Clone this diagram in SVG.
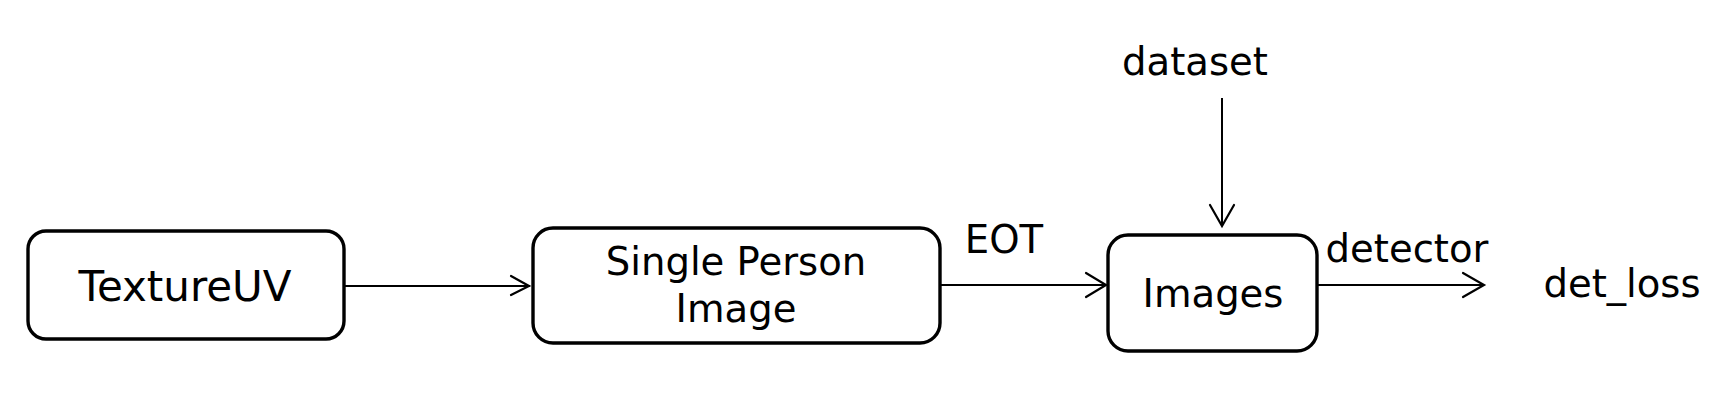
<svg xmlns="http://www.w3.org/2000/svg" width="1736" height="414" viewBox="0 0 1736 414">
<style>
.box{fill:#fff;stroke:#000;stroke-width:3.4}
.lbl{font-family:"DejaVu Sans",sans-serif;font-size:38.6px;fill:#000;text-anchor:middle}
.edge{stroke:#000;stroke-width:2;fill:none}
.head{stroke:#000;stroke-width:2.2;fill:none;stroke-linecap:round;stroke-linejoin:miter}
</style>
<rect width="1736" height="414" fill="#fff"/>
<g id="connectors">
<line class="edge" x1="344" y1="286" x2="530" y2="286"/>
<polyline class="head" points="511,276 529,286 511,295"/>
<line class="edge" x1="940" y1="285" x2="1106" y2="285"/>
<polyline class="head" points="1086,273 1106,285 1086,297"/>
<line class="edge" x1="1317" y1="285" x2="1484" y2="285"/>
<polyline class="head" points="1463,273 1484,285 1463,297"/>
<line class="edge" x1="1222" y1="98" x2="1222" y2="226"/>
<polyline class="head" points="1210,205 1222,226 1234,205"/>
<text class="lbl" x="1004" y="253">EOT</text>
<text class="lbl" x="1407" y="262">detector</text>
</g>
<g id="node-textureuv">
<rect class="box" x="28" y="231" width="316" height="108" rx="18" stroke-width="4"/>
<text class="lbl" x="185" y="301" style="font-size:42px">TextureUV</text>
</g>
<g id="node-single-person">
<rect class="box" x="533" y="228" width="407" height="115" rx="20"/>
<text class="lbl" x="736" y="275">Single Person</text>
<text class="lbl" x="736" y="322">Image</text>
</g>
<g id="node-images">
<rect class="box" x="1108" y="235" width="209" height="116" rx="20"/>
<text class="lbl" x="1213" y="307">Images</text>
</g>
<g id="node-dataset">
<text class="lbl" x="1195" y="75">dataset</text>
</g>
<g id="node-det-loss">
<text class="lbl" x="1622" y="297">det_loss</text>
</g>
</svg>
